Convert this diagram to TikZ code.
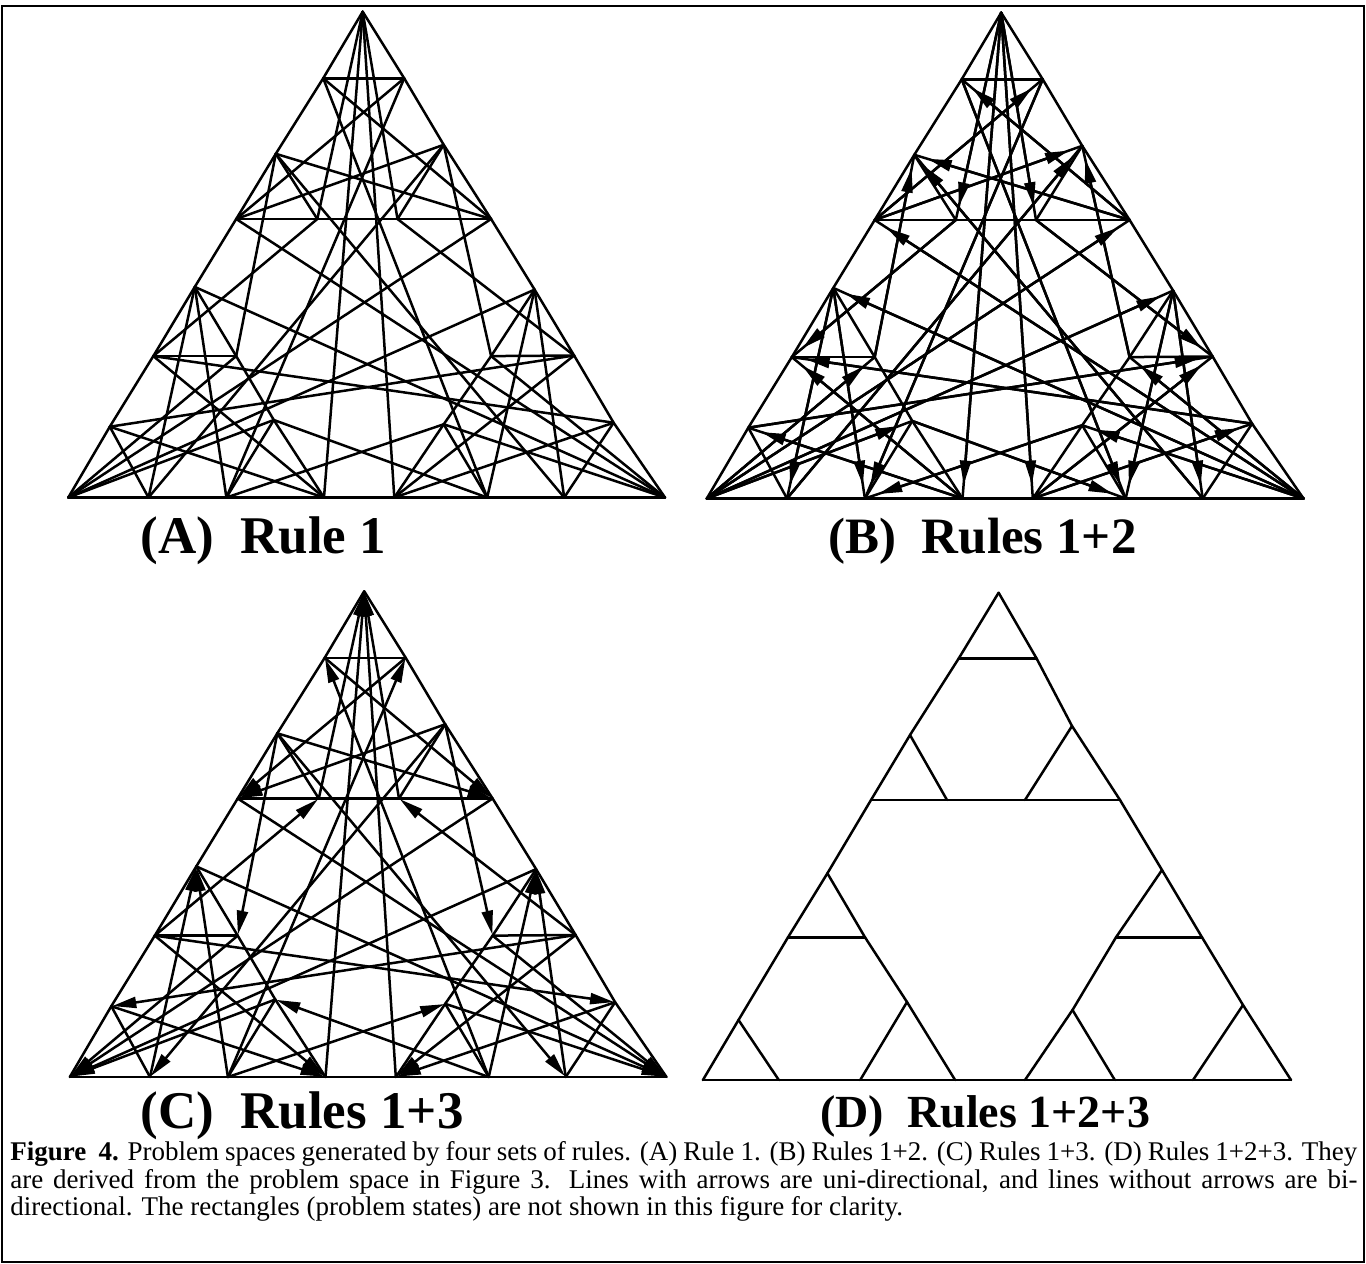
\documentclass[tikz,border=0pt]{standalone}
\usepackage{fontspec}
\setmainfont{Liberation Serif}
\usetikzlibrary{arrows.meta}

% positions of the 27 states (largest disk / middle disk / smallest disk)
\newcommand\placestates[3]{%
  \begin{scope}[shift={(#2,#3)}]
    \coordinate (#1000) at (362.7,11.7);
    \coordinate (#1001) at (323.2,78.3);
    \coordinate (#1002) at (404.2,78.3);
    \coordinate (#1021) at (275.8,153.8);
    \coordinate (#1012) at (443.7,144.8);
    \coordinate (#1022) at (236.2,219);
    \coordinate (#1020) at (317.3,219);
    \coordinate (#1010) at (397.5,219);
    \coordinate (#1011) at (491.1,219);
    \coordinate (#1122) at (194.8,286.9);
    \coordinate (#1211) at (534.6,289.6);
    \coordinate (#1120) at (153.3,356.1);
    \coordinate (#1121) at (236.2,356.1);
    \coordinate (#1212) at (491.1,356.1);
    \coordinate (#1210) at (574.1,355.5);
    \coordinate (#1110) at (109.8,426.7);
    \coordinate (#1101) at (273.8,420);
    \coordinate (#1202) at (443.7,424.3);
    \coordinate (#1220) at (613.6,422.7);
    \coordinate (#1111) at (68.3,497.5);
    \coordinate (#1112) at (148.5,497.5);
    \coordinate (#1102) at (226.4,497.5);
    \coordinate (#1100) at (324.0,497.5);
    \coordinate (#1200) at (394.3,497.5);
    \coordinate (#1201) at (487.2,497.5);
    \coordinate (#1221) at (564.2,497.5);
    \coordinate (#1222) at (665,497.5);
  \end{scope}}

% moves that stay legal in both directions
\newcommand\twoway{000/001,000/002,001/002,010/011,010/012,011/012,%
020/021,020/022,021/022,100/101,100/102,101/102,110/111,110/112,111/112,%
120/121,120/122,121/122,200/201,200/202,201/202,210/211,210/212,211/212,%
220/221,220/222,221/222,010/020,001/021,002/012,110/120,101/121,102/112,%
210/220,201/221,202/212,100/200,011/211,022/122}

% moves legal in one direction only (source/target under rules 1+2)
\newcommand\oneway{000/010,000/020,011/001,011/021,022/002,022/012,%
100/110,100/120,111/101,111/121,122/102,122/112,200/210,200/220,211/201,%
211/221,222/202,222/212,000/100,000/200,111/011,111/211,222/022,222/122,%
001/201,101/201,010/210,110/210,002/102,202/102,020/120,220/120,112/012,%
212/012,121/021,221/021}

\tikzset{
  edge/.style={line width=1.25pt, line cap=round},
  headB/.style={-{Triangle[length=12pt,width=5.5pt]}, shorten >=7pt},
  headC/.style={-{Triangle[length=12pt,width=5.5pt]}, shorten >=0.5pt},
  heading/.style={font=\fontsize{#1}{30pt}\selectfont\bfseries, inner sep=0pt, anchor=base west},
  captext/.style={font=\fontsize{13.5pt}{16pt}\selectfont, inner sep=0pt, anchor=base west}
}

\begin{document}
\begin{tikzpicture}[x=0.5pt,y=-0.5pt]
\useasboundingbox (0,0) rectangle (1366,1264);
\draw[line width=1pt] (2,6) rectangle (1364,1262);

% (A) rule 1
\placestates{A}{0}{0}
\foreach \u/\v in \twoway {\draw[edge] (A\u) -- (A\v);}
\foreach \u/\v in \oneway {\draw[edge] (A\u) -- (A\v);}

% (B) rules 1+2
\placestates{B}{638.5}{1}
\foreach \u/\v in \twoway {\draw[edge] (B\u) -- (B\v);}
\foreach \u/\v in \oneway {\draw[edge] (B\u) -- (B\v); \draw[edge,headB] (B\u) -- (B\v);}

% (C) rules 1+3
\placestates{C}{1.5}{579.5}
\foreach \u/\v in \twoway {\draw[edge] (C\u) -- (C\v);}
\foreach \u/\v in \oneway {\draw[edge,headC] (C\v) -- (C\u);}

% (D) rules 1+2+3
\coordinate (D000) at (998.6,592.7);
\coordinate (D001) at (958.8,658.3);
\coordinate (D002) at (1036.5,658.3);
\coordinate (D021) at (910,735);
\coordinate (D012) at (1072,726);
\coordinate (D022) at (871,800);
\coordinate (D020) at (947,800);
\coordinate (D010) at (1025,800);
\coordinate (D011) at (1120,800);
\coordinate (D122) at (827.4,873.3);
\coordinate (D211) at (1162,870);
\coordinate (D120) at (788,937.3);
\coordinate (D121) at (865,937.3);
\coordinate (D212) at (1116,937.3);
\coordinate (D210) at (1202,937.3);
\coordinate (D110) at (738.5,1020);
\coordinate (D101) at (907,1002);
\coordinate (D202) at (1072.5,1010);
\coordinate (D220) at (1243,1005);
\coordinate (D111) at (702.9,1080);
\coordinate (D112) at (778.8,1080);
\coordinate (D102) at (860.2,1080);
\coordinate (D100) at (955.1,1080);
\coordinate (D200) at (1025,1080);
\coordinate (D201) at (1114.8,1080);
\coordinate (D221) at (1193,1080);
\coordinate (D222) at (1291,1080);
\foreach \u/\v in \twoway {\draw[edge] (D\u) -- (D\v);}

% panel titles
\node[heading=26.5pt] (tA) at (140,553) {(A)\ \ Rule 1};
\node[heading=25.5pt] (tB) at (828,553) {(B)\ \ Rules 1+2};
\node[heading=26.5pt] (tC) at (140,1128) {(C)\ \ Rules 1+3};
\node[heading=23pt] (tD) at (820,1127) {(D)\ \ Rules 1+2+3};

% caption
\node[captext] (cap1) at (10,1160) {\makebox[673.5pt][s]{\textbf{Figure\ \ 4.} Problem spaces generated by four sets of rules. (A) Rule 1. (B) Rules 1+2. (C) Rules 1+3. (D) Rules 1+2+3. They}};
\node[captext] (cap2) at (10,1188) {\makebox[673.5pt][s]{are derived from the problem space in Figure 3. Lines with arrows are uni-directional, and lines without arrows are bi-}};
\node[captext] (cap3) at (10,1215) {directional. The rectangles (problem states) are not shown in this figure for clarity.};
\end{tikzpicture}
\end{document}
